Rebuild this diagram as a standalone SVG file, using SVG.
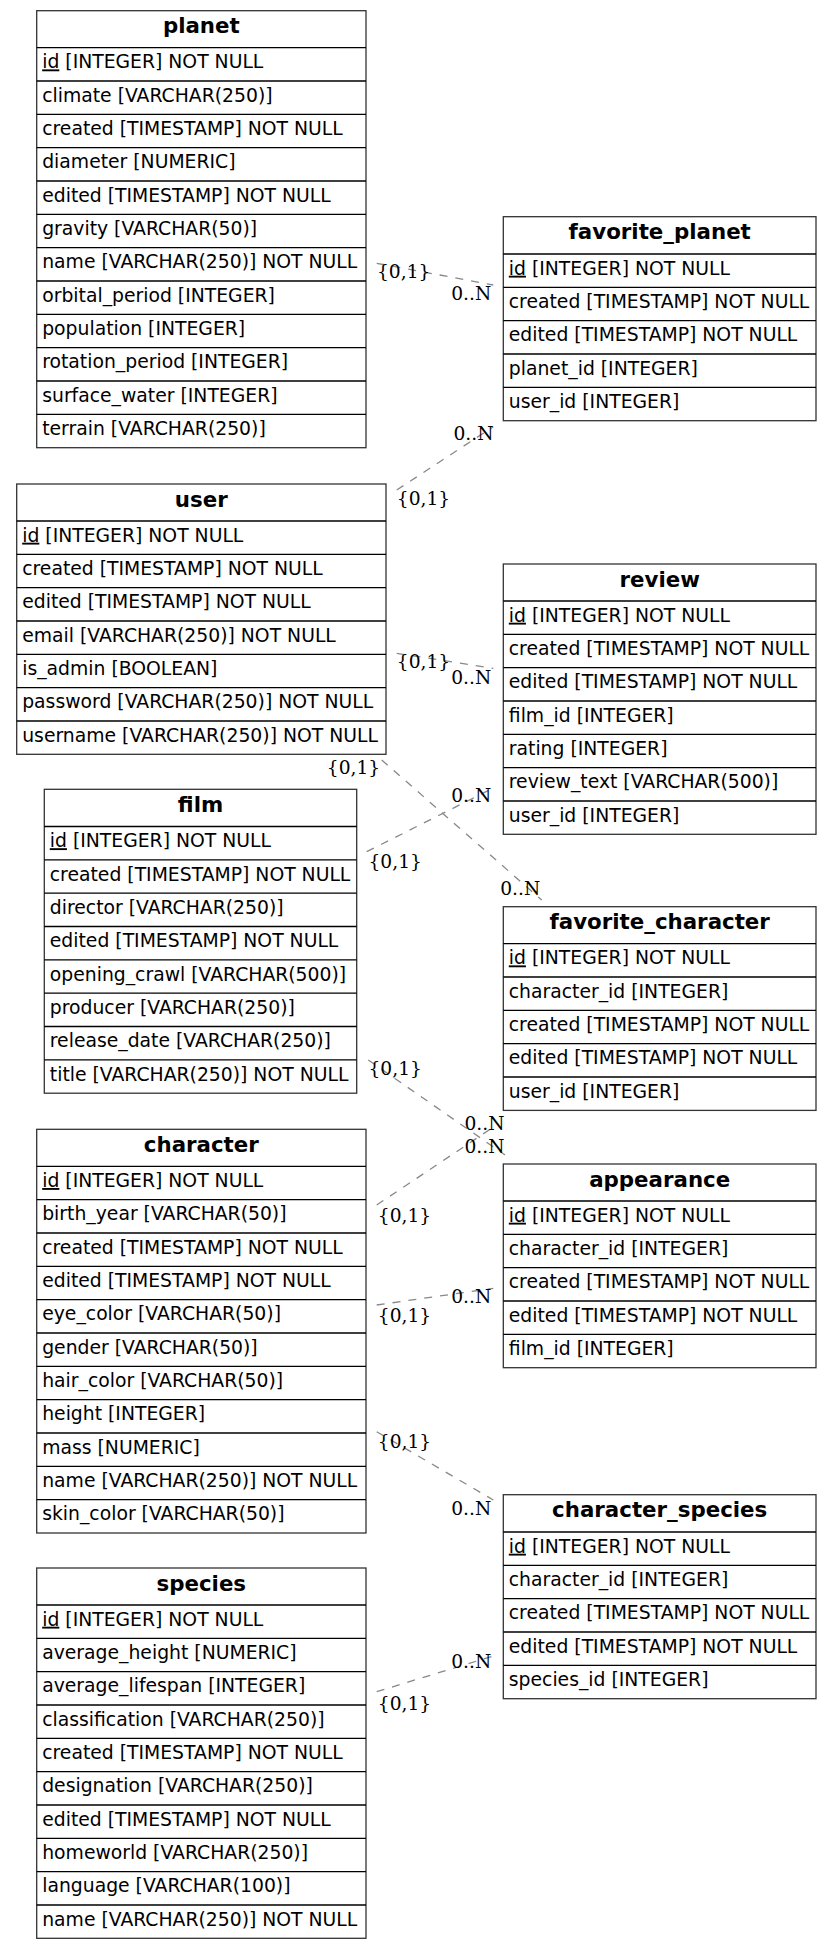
<svg xmlns="http://www.w3.org/2000/svg" width="832" height="1949" viewBox="0 0 832 1949">
<style>
.box{fill:#fff;stroke:#333;stroke-width:1.3}
.sep{fill:none;stroke:#000;stroke-width:1.3}
.h{font-family:"DejaVu Sans",sans-serif;font-weight:bold;font-size:21.33px;text-anchor:middle;fill:#000}
.t{font-family:"DejaVu Sans",sans-serif;font-size:18.8px;fill:#000}
.u{text-decoration:underline;text-decoration-color:#777}
.e{fill:none;stroke:#888;stroke-width:1.3;stroke-dasharray:8 8}
.l{font-family:"DejaVu Serif",serif;font-size:18.67px;fill:#000}
</style>
<rect width="832" height="1949" fill="#fff"/>
<g id="connectors">
<path class="e" d="M376.7 263.3L493.3 285"/>
<path class="e" d="M396.7 490L493.3 426.7"/>
<path class="e" d="M396.7 653.3L493.3 668.3"/>
<path class="e" d="M381.7 760L541.7 900"/>
<path class="e" d="M366.7 851.7L493.3 788"/>
<path class="e" d="M368.3 1060L505 1155"/>
<path class="e" d="M376.7 1205L492 1128"/>
<path class="e" d="M376.7 1305L493.3 1288.3"/>
<path class="e" d="M376.7 1431.7L493.3 1500"/>
<path class="e" d="M376.7 1691.7L493.3 1656"/>
<text class="l" x="377" y="277.5">{0,1}</text><text class="l" x="451.2" y="300">0..N</text>
<text class="l" x="396.8" y="505">{0,1}</text><text class="l" x="453.5" y="440">0..N</text>
<text class="l" x="396.8" y="668.3">{0,1}</text><text class="l" x="451.2" y="684">0..N</text>
<text class="l" x="326.8" y="774">{0,1}</text><text class="l" x="500.2" y="895">0..N</text>
<text class="l" x="368.5" y="868.3">{0,1}</text><text class="l" x="451.2" y="801.7">0..N</text>
<text class="l" x="368.5" y="1075">{0,1}</text><text class="l" x="464.5" y="1130">0..N</text>
<text class="l" x="377.8" y="1221.7">{0,1}</text><text class="l" x="464.5" y="1152.7">0..N</text>
<text class="l" x="377.8" y="1321.7">{0,1}</text><text class="l" x="451.2" y="1303.3">0..N</text>
<text class="l" x="377.8" y="1448.3">{0,1}</text><text class="l" x="451.2" y="1515">0..N</text>
<text class="l" x="377.8" y="1710">{0,1}</text><text class="l" x="451.2" y="1668.3">0..N</text>
</g>
<g id="planet">
<rect class="box" x="36.7" y="10.7" width="329.3" height="437"/>
<path class="sep" d="M36.7 47.7H366M36.7 81H366M36.7 114.4H366M36.7 147.7H366M36.7 181H366M36.7 214.4H366M36.7 247.7H366M36.7 281H366M36.7 314.4H366M36.7 347.7H366M36.7 381H366M36.7 414.4H366"/>
<text class="h" x="201.3" y="33.4">planet</text>
<text class="t" x="42.2" y="68.4"><tspan class="u">id</tspan> [INTEGER] NOT NULL</text>
<text class="t" x="42.2" y="101.7">climate [VARCHAR(250)]</text>
<text class="t" x="42.2" y="135">created [TIMESTAMP] NOT NULL</text>
<text class="t" x="42.2" y="168.4">diameter [NUMERIC]</text>
<text class="t" x="42.2" y="201.7">edited [TIMESTAMP] NOT NULL</text>
<text class="t" x="42.2" y="235">gravity [VARCHAR(50)]</text>
<text class="t" x="42.2" y="268.4">name [VARCHAR(250)] NOT NULL</text>
<text class="t" x="42.2" y="301.7">orbital_period [INTEGER]</text>
<text class="t" x="42.2" y="335">population [INTEGER]</text>
<text class="t" x="42.2" y="368.4">rotation_period [INTEGER]</text>
<text class="t" x="42.2" y="401.7">surface_water [INTEGER]</text>
<text class="t" x="42.2" y="435">terrain [VARCHAR(250)]</text>
</g>
<g id="favorite_planet">
<rect class="box" x="503.3" y="216.7" width="312.7" height="204"/>
<path class="sep" d="M503.3 254H816M503.3 287.3H816M503.3 320.7H816M503.3 354H816M503.3 387.3H816"/>
<text class="h" x="659.7" y="239.4">favorite_planet</text>
<text class="t" x="508.8" y="274.7"><tspan class="u">id</tspan> [INTEGER] NOT NULL</text>
<text class="t" x="508.8" y="308">created [TIMESTAMP] NOT NULL</text>
<text class="t" x="508.8" y="341.4">edited [TIMESTAMP] NOT NULL</text>
<text class="t" x="508.8" y="374.7">planet_id [INTEGER]</text>
<text class="t" x="508.8" y="408">user_id [INTEGER]</text>
</g>
<g id="user">
<rect class="box" x="16.7" y="484" width="369.3" height="270.3"/>
<path class="sep" d="M16.7 521H386M16.7 554.3H386M16.7 587.7H386M16.7 621H386M16.7 654.3H386M16.7 687.7H386M16.7 721H386"/>
<text class="h" x="201.3" y="506.7">user</text>
<text class="t" x="22.2" y="541.7"><tspan class="u">id</tspan> [INTEGER] NOT NULL</text>
<text class="t" x="22.2" y="575">created [TIMESTAMP] NOT NULL</text>
<text class="t" x="22.2" y="608.4">edited [TIMESTAMP] NOT NULL</text>
<text class="t" x="22.2" y="641.7">email [VARCHAR(250)] NOT NULL</text>
<text class="t" x="22.2" y="675">is_admin [BOOLEAN]</text>
<text class="t" x="22.2" y="708.4">password [VARCHAR(250)] NOT NULL</text>
<text class="t" x="22.2" y="741.7">username [VARCHAR(250)] NOT NULL</text>
</g>
<g id="review">
<rect class="box" x="503.3" y="564" width="312.7" height="270.3"/>
<path class="sep" d="M503.3 601H816M503.3 634.3H816M503.3 667.7H816M503.3 701H816M503.3 734.3H816M503.3 767.7H816M503.3 801H816"/>
<text class="h" x="659.7" y="586.7">review</text>
<text class="t" x="508.8" y="621.7"><tspan class="u">id</tspan> [INTEGER] NOT NULL</text>
<text class="t" x="508.8" y="655">created [TIMESTAMP] NOT NULL</text>
<text class="t" x="508.8" y="688.4">edited [TIMESTAMP] NOT NULL</text>
<text class="t" x="508.8" y="721.7">film_id [INTEGER]</text>
<text class="t" x="508.8" y="755">rating [INTEGER]</text>
<text class="t" x="508.8" y="788.4">review_text [VARCHAR(500)]</text>
<text class="t" x="508.8" y="821.7">user_id [INTEGER]</text>
</g>
<g id="film">
<rect class="box" x="44.3" y="789.3" width="312.4" height="303.9"/>
<path class="sep" d="M44.3 826.5H356.7M44.3 859.8H356.7M44.3 893.2H356.7M44.3 926.5H356.7M44.3 959.8H356.7M44.3 993.2H356.7M44.3 1026.5H356.7M44.3 1059.8H356.7"/>
<text class="h" x="200.5" y="812">film</text>
<text class="t" x="49.8" y="847.2"><tspan class="u">id</tspan> [INTEGER] NOT NULL</text>
<text class="t" x="49.8" y="880.5">created [TIMESTAMP] NOT NULL</text>
<text class="t" x="49.8" y="913.9">director [VARCHAR(250)]</text>
<text class="t" x="49.8" y="947.2">edited [TIMESTAMP] NOT NULL</text>
<text class="t" x="49.8" y="980.5">opening_crawl [VARCHAR(500)]</text>
<text class="t" x="49.8" y="1013.9">producer [VARCHAR(250)]</text>
<text class="t" x="49.8" y="1047.2">release_date [VARCHAR(250)]</text>
<text class="t" x="49.8" y="1080.5">title [VARCHAR(250)] NOT NULL</text>
</g>
<g id="favorite_character">
<rect class="box" x="503.3" y="906.7" width="312.7" height="203.7"/>
<path class="sep" d="M503.3 943.7H816M503.3 977H816M503.3 1010.4H816M503.3 1043.7H816M503.3 1077H816"/>
<text class="h" x="659.7" y="929.4">favorite_character</text>
<text class="t" x="508.8" y="964.4"><tspan class="u">id</tspan> [INTEGER] NOT NULL</text>
<text class="t" x="508.8" y="997.7">character_id [INTEGER]</text>
<text class="t" x="508.8" y="1031.1">created [TIMESTAMP] NOT NULL</text>
<text class="t" x="508.8" y="1064.4">edited [TIMESTAMP] NOT NULL</text>
<text class="t" x="508.8" y="1097.7">user_id [INTEGER]</text>
</g>
<g id="character">
<rect class="box" x="36.7" y="1129.3" width="329.3" height="403.7"/>
<path class="sep" d="M36.7 1166.3H366M36.7 1199.6H366M36.7 1233H366M36.7 1266.3H366M36.7 1299.6H366M36.7 1333H366M36.7 1366.3H366M36.7 1399.6H366M36.7 1433H366M36.7 1466.3H366M36.7 1499.6H366"/>
<text class="h" x="201.3" y="1152">character</text>
<text class="t" x="42.2" y="1187"><tspan class="u">id</tspan> [INTEGER] NOT NULL</text>
<text class="t" x="42.2" y="1220.3">birth_year [VARCHAR(50)]</text>
<text class="t" x="42.2" y="1253.7">created [TIMESTAMP] NOT NULL</text>
<text class="t" x="42.2" y="1287">edited [TIMESTAMP] NOT NULL</text>
<text class="t" x="42.2" y="1320.3">eye_color [VARCHAR(50)]</text>
<text class="t" x="42.2" y="1353.7">gender [VARCHAR(50)]</text>
<text class="t" x="42.2" y="1387">hair_color [VARCHAR(50)]</text>
<text class="t" x="42.2" y="1420.3">height [INTEGER]</text>
<text class="t" x="42.2" y="1453.7">mass [NUMERIC]</text>
<text class="t" x="42.2" y="1487">name [VARCHAR(250)] NOT NULL</text>
<text class="t" x="42.2" y="1520.3">skin_color [VARCHAR(50)]</text>
</g>
<g id="appearance">
<rect class="box" x="503.3" y="1164" width="312.7" height="203.7"/>
<path class="sep" d="M503.3 1201H816M503.3 1234.3H816M503.3 1267.7H816M503.3 1301H816M503.3 1334.3H816"/>
<text class="h" x="659.7" y="1186.7">appearance</text>
<text class="t" x="508.8" y="1221.7"><tspan class="u">id</tspan> [INTEGER] NOT NULL</text>
<text class="t" x="508.8" y="1255">character_id [INTEGER]</text>
<text class="t" x="508.8" y="1288.4">created [TIMESTAMP] NOT NULL</text>
<text class="t" x="508.8" y="1321.7">edited [TIMESTAMP] NOT NULL</text>
<text class="t" x="508.8" y="1355">film_id [INTEGER]</text>
</g>
<g id="character_species">
<rect class="box" x="503.3" y="1494.7" width="312.7" height="204"/>
<path class="sep" d="M503.3 1532H816M503.3 1565.3H816M503.3 1598.7H816M503.3 1632H816M503.3 1665.3H816"/>
<text class="h" x="659.7" y="1517.4">character_species</text>
<text class="t" x="508.8" y="1552.7"><tspan class="u">id</tspan> [INTEGER] NOT NULL</text>
<text class="t" x="508.8" y="1586">character_id [INTEGER]</text>
<text class="t" x="508.8" y="1619.4">created [TIMESTAMP] NOT NULL</text>
<text class="t" x="508.8" y="1652.7">edited [TIMESTAMP] NOT NULL</text>
<text class="t" x="508.8" y="1686">species_id [INTEGER]</text>
</g>
<g id="species">
<rect class="box" x="36.7" y="1568" width="329.3" height="370.3"/>
<path class="sep" d="M36.7 1605H366M36.7 1638.3H366M36.7 1671.7H366M36.7 1705H366M36.7 1738.3H366M36.7 1771.7H366M36.7 1805H366M36.7 1838.3H366M36.7 1871.7H366M36.7 1905H366"/>
<text class="h" x="201.3" y="1590.7">species</text>
<text class="t" x="42.2" y="1625.7"><tspan class="u">id</tspan> [INTEGER] NOT NULL</text>
<text class="t" x="42.2" y="1659">average_height [NUMERIC]</text>
<text class="t" x="42.2" y="1692.4">average_lifespan [INTEGER]</text>
<text class="t" x="42.2" y="1725.7">classification [VARCHAR(250)]</text>
<text class="t" x="42.2" y="1759">created [TIMESTAMP] NOT NULL</text>
<text class="t" x="42.2" y="1792.4">designation [VARCHAR(250)]</text>
<text class="t" x="42.2" y="1825.7">edited [TIMESTAMP] NOT NULL</text>
<text class="t" x="42.2" y="1859">homeworld [VARCHAR(250)]</text>
<text class="t" x="42.2" y="1892.4">language [VARCHAR(100)]</text>
<text class="t" x="42.2" y="1925.7">name [VARCHAR(250)] NOT NULL</text>
</g>
</svg>
